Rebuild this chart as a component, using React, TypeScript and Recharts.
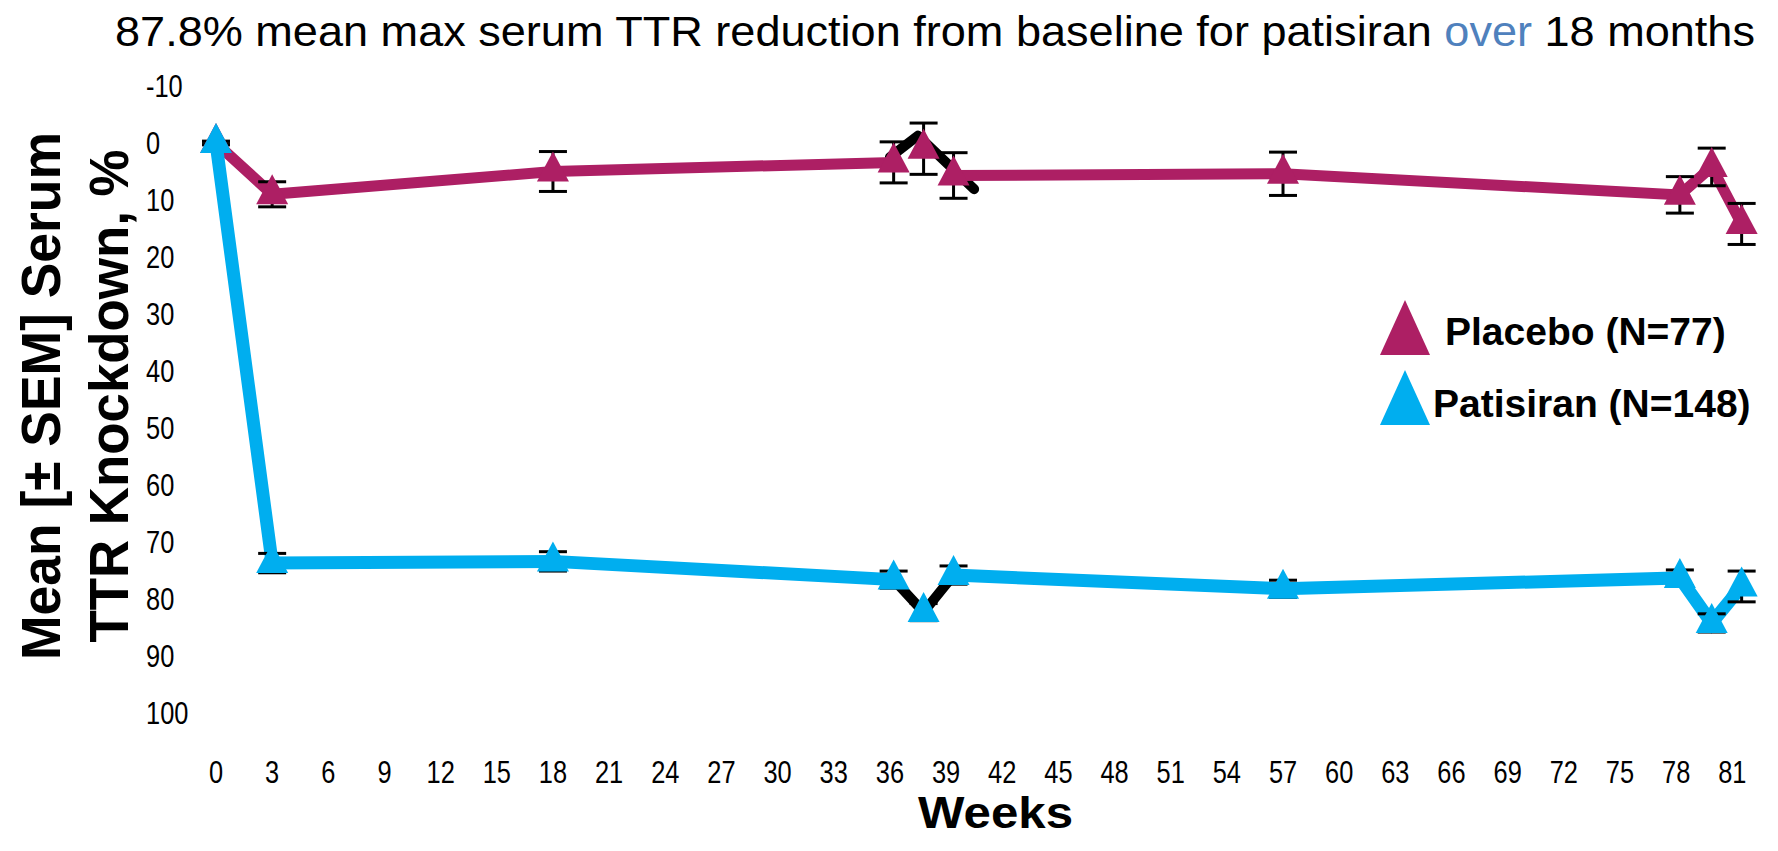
import { LineChart, Line, XAxis, YAxis, ErrorBar } from 'recharts';

// Visit weeks shared by both arms
const weeks = [0, 3, 18, 36.2, 37.8, 39.4, 57, 78.2, 79.9, 81.5];

// Mean serum TTR knockdown (%) and SEM per visit
const placeboMean = [0, 9, 5, 3.4, 1, 5.7, 5.4, 9.1, 4.2, 14.2];
const placeboSem = [0.3, 2.2, 3.5, 3.6, 4.5, 4, 3.8, 3.2, 3.3, 3.6];
const patisiranMean = [0, 73.7, 73.4, 76.6, 82.3, 75.8, 78.2, 76.3, 84.2, 77.8];
const patisiranSem = [0.3, 1.7, 1.7, 1.5, 1.5, 1.6, 1.5, 1.4, 1.6, 2.7];

// visit whose neighbouring segments are drawn as a black bridge
const bridgedWeeks = [37.8];

// black bridge traces
const placeboBridgeWeeks = [36.0, 37.5, 40.5];
const placeboBridgeValues = [2.5, -1.3, 8.1];
const patisiranBridgeWeeks = [36.2, 37.8, 39.4];
const patisiranBridgeValues = [76.6, 82.3, 75.8];

const xTicks = [0, 3, 6, 9, 12, 15, 18, 21, 24, 27, 30, 33, 36, 39, 42, 45, 48, 51, 54, 57, 60, 63, 66, 69, 72, 75, 78, 81];
const yTicks = [-10, 0, 10, 20, 30, 40, 50, 60, 70, 80, 90, 100];

const PLACEBO = '#AD1F64';
const PATISIRAN = '#00AEEF';
const TICK_FONT = '"Liberation Sans", Arial, sans-serif';
const BOLD_FONT = '"Liberation Sans", Arial, sans-serif';

const markerRows = (means: number[], sems: number[]) =>
  weeks.map((w, i) => ({ week: w, mean: means[i], sem: sems[i] }));

const lineRows = (means: number[]) =>
  weeks.map((w, i) => ({ week: w, mean: bridgedWeeks.includes(w) ? null : means[i] }));

const bridgeRows = (ws: number[], vs: number[]) => ws.map((w, i) => ({ week: w, mean: vs[i] }));

const triangleDot = (color: string) => (props: any) => {
  const { cx, cy, index } = props;
  if (cx == null || cy == null) return <g key={`t-${index}`} />;
  return (
    <path
      key={`t-${index}`}
      d={`M${cx},${cy - 20} L${cx + 16},${cy + 10} L${cx - 16},${cy + 10} Z`}
      fill={color}
    />
  );
};

// tick labels are set in a narrowed face
const XTick = ({ x, y, payload }: any) => (
  <text
    transform={`translate(${x},${y + 70}) scale(0.82,1)`}
    textAnchor="middle"
    fontFamily={TICK_FONT}
    fontSize={31}
    fill="#000"
  >
    {payload.value}
  </text>
);

const YTick = ({ x, y, payload }: any) => (
  <text
    transform={`translate(${x - 70},${y}) scale(0.82,1)`}
    dominantBaseline="central"
    textAnchor="start"
    fontFamily={TICK_FONT}
    fontSize={31}
    fill="#000"
  >
    {payload.value}
  </text>
);

const App = () => {
  return (
    <div style={{ position: 'absolute', left: 0, top: 0, width: 1778, height: 851, background: '#fff' }}>
      <LineChart width={1778} height={851} margin={{ top: 86, right: 27, bottom: 78, left: 146 }}>
        <XAxis
          type="number"
          dataKey="week"
          domain={[0, 82]}
          ticks={xTicks}
          axisLine={false}
          tickLine={false}
          tickSize={0}
          tickMargin={0}
          height={60}
          tick={<XTick />}
          interval={0}
        />
        <YAxis
          type="number"
          domain={[-10, 100]}
          ticks={yTicks}
          reversed
          allowDataOverflow
          axisLine={false}
          tickLine={false}
          tickSize={0}
          tickMargin={0}
          width={70}
          tick={<YTick />}
          interval={0}
        />

        {/* black bridges under the arms */}
        <Line
          data={bridgeRows(placeboBridgeWeeks, placeboBridgeValues)}
          dataKey="mean"
          stroke="#000"
          strokeWidth={10}
          strokeLinecap="round"
          strokeLinejoin="round"
          dot={false}
          activeDot={false}
          isAnimationActive={false}
        />
        <Line
          data={bridgeRows(patisiranBridgeWeeks, patisiranBridgeValues)}
          dataKey="mean"
          stroke="#000"
          strokeWidth={10}
          strokeLinejoin="round"
          dot={false}
          activeDot={false}
          isAnimationActive={false}
        />

        {/* arm lines */}
        <Line
          data={lineRows(placeboMean)}
          dataKey="mean"
          stroke={PLACEBO}
          strokeWidth={11}
          dot={false}
          activeDot={false}
          isAnimationActive={false}
        />
        <Line
          data={lineRows(patisiranMean)}
          dataKey="mean"
          stroke={PATISIRAN}
          strokeWidth={13}
          dot={false}
          activeDot={false}
          isAnimationActive={false}
        />

        {/* markers with SEM bars */}
        <Line
          data={markerRows(placeboMean, placeboSem)}
          dataKey="mean"
          stroke="none"
          dot={triangleDot(PLACEBO)}
          activeDot={false}
          isAnimationActive={false}
        >
          <ErrorBar dataKey="sem" direction="y" width={14} stroke="#000" strokeWidth={3} isAnimationActive={false} />
        </Line>
        <Line
          data={markerRows(patisiranMean, patisiranSem)}
          dataKey="mean"
          stroke="none"
          dot={triangleDot(PATISIRAN)}
          activeDot={false}
          isAnimationActive={false}
        >
          <ErrorBar dataKey="sem" direction="y" width={14} stroke="#000" strokeWidth={3} isAnimationActive={false} />
        </Line>
      </LineChart>

      <svg
        width={1778}
        height={851}
        style={{ position: 'absolute', left: 0, top: 0, pointerEvents: 'none' }}
      >
        <text x={115} y={46} fontFamily={BOLD_FONT} fontSize={42} fill="#000" textLength={1640} lengthAdjust="spacingAndGlyphs">
          87.8% mean max serum TTR reduction from baseline for patisiran <tspan fill="#4F81BD">over</tspan> 18 months
        </text>

        <text
          x={60}
          y={396}
          transform="rotate(-90, 60, 396)"
          textAnchor="middle"
          fontFamily={BOLD_FONT}
          fontWeight="bold"
          fontSize={56}
          textLength={528}
          lengthAdjust="spacingAndGlyphs"
        >
          Mean [± SEM] Serum
        </text>
        <text
          x={128}
          y={396}
          transform="rotate(-90, 128, 396)"
          textAnchor="middle"
          fontFamily={BOLD_FONT}
          fontWeight="bold"
          fontSize={56}
          textLength={493}
          lengthAdjust="spacingAndGlyphs"
        >
          TTR Knockdown, %
        </text>

        <text x={918} y={828} fontFamily={BOLD_FONT} fontWeight="bold" fontSize={44} textLength={155} lengthAdjust="spacingAndGlyphs">
          Weeks
        </text>

        <path d="M1405,300 L1430,355 L1380,355 Z" fill={PLACEBO} />
        <text x={1445} y={345} fontFamily={BOLD_FONT} fontWeight="bold" fontSize={39}>
          Placebo (N=77)
        </text>
        <path d="M1405,370 L1430,425 L1380,425 Z" fill={PATISIRAN} />
        <text x={1433} y={417} fontFamily={BOLD_FONT} fontWeight="bold" fontSize={39}>
          Patisiran (N=148)
        </text>
      </svg>
    </div>
  );
};

export default App;
